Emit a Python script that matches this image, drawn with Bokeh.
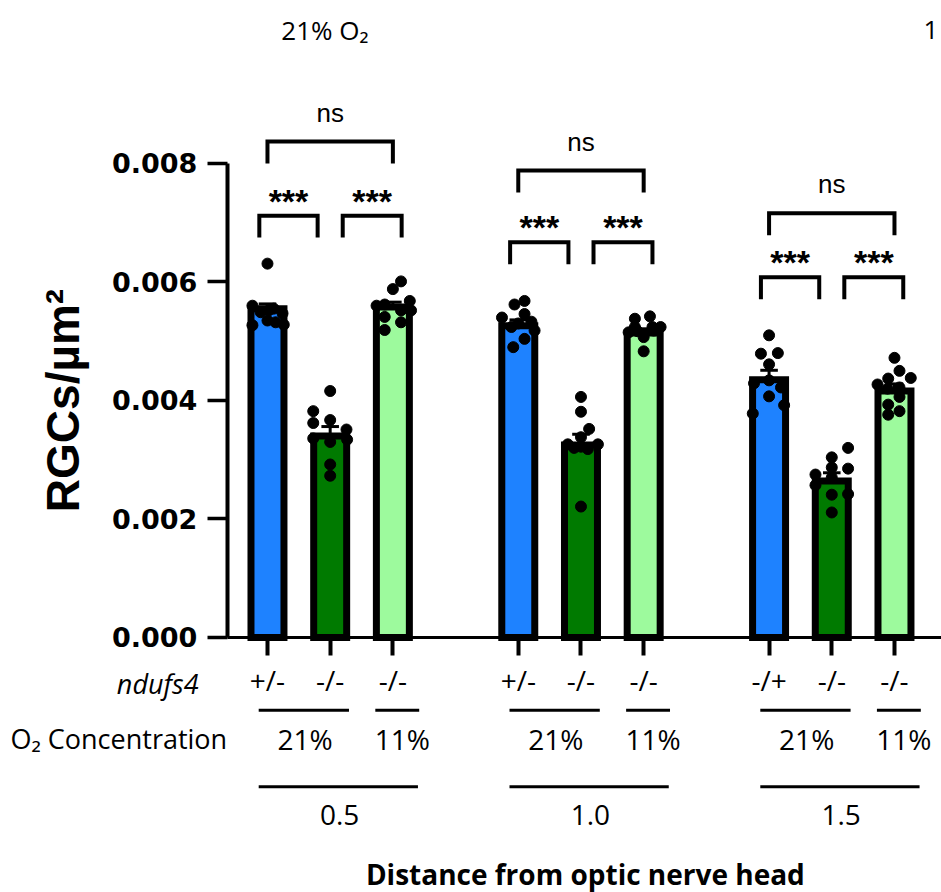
from bokeh.plotting import figure
from bokeh.models import Range1d, FixedTicker, PrintfTickFormatter
from bokeh.core.properties import value
from bokeh.embed import file_html
from bokeh.resources import INLINE

# ---------------- data ----------------
distances = ["0.5", "1.0", "1.5"]
genotypes = ["+/-", "-/-", "-/-", "+/-", "-/-", "-/-", "-/+", "-/-", "-/-"]
o2_levels = ["21%", "11%"]
bar_x = [0, 1, 2, 4, 5, 6, 8, 9, 10]
means = [0.00555, 0.00340, 0.00558, 0.00526, 0.00325, 0.00514, 0.00435, 0.00264, 0.00416]
sems = [0.00008, 0.00016, 0.00008, 0.00010, 0.00018, 0.00007, 0.00016, 0.00014, 0.00012]
y_ticks = [0.0, 0.002, 0.004, 0.006, 0.008]

# individual animals (x 1e-3 RGCs/um^2)
d05_het21 = [6.31, 5.60, 5.49, 5.52, 5.55, 5.47, 5.35, 5.32, 5.27, 5.28]
d05_ko21 = [4.16, 3.82, 3.67, 3.62, 3.51, 3.34, 3.36, 3.30, 2.92, 2.73]
d05_ko11 = [6.01, 5.88, 5.68, 5.60, 5.62, 5.52, 5.41, 5.32, 5.19, 5.52]
d10_het21 = [5.68, 5.62, 5.46, 5.40, 5.24, 5.18, 5.04, 4.90, 5.30, 5.33]
d10_ko21 = [4.06, 3.81, 3.52, 3.38, 3.26, 3.22, 3.26, 3.18, 2.21, 3.20]
d10_ko11 = [5.38, 5.42, 5.24, 5.24, 5.24, 5.15, 5.07, 4.83, 5.18, 5.17]
d15_het21 = [5.10, 4.79, 4.80, 4.61, 4.29, 4.34, 4.22, 4.07, 3.92, 3.78]
d15_ko21 = [3.20, 3.04, 2.85, 2.87, 2.75, 2.57, 2.41, 2.42, 2.11, 2.70]
d15_ko11 = [4.72, 4.50, 4.37, 4.38, 4.27, 4.22, 4.06, 3.93, 3.76, 3.82, 4.20]

# horizontal scatter of the points
j05_het21 = [0, -0.24, -0.11, 0.02, 0.10, 0.24, 0, 0.13, -0.24, 0.26]
j05_ko21 = [0, -0.27, 0, -0.27, 0.26, 0.27, -0.27, 0, 0, 0]
j05_ko11 = [0.13, 0, 0.27, -0.26, -0.13, 0.13, -0.13, 0.13, -0.13, 0.29]
j10_het21 = [0.10, -0.06, 0.10, -0.26, -0.11, 0.26, 0.10, -0.08, 0, 0.21]
j10_ko21 = [0, 0, 0.13, 0, -0.21, 0, 0.27, 0.11, 0, -0.11]
j10_ko11 = [-0.14, 0.10, -0.14, 0.14, 0.27, -0.24, 0, 0, 0.16, -0.10]
j15_het21 = [0, -0.13, 0.14, 0, -0.24, 0, 0.19, 0, 0.24, -0.26]
j15_ko21 = [0.26, 0, 0.26, 0, -0.26, -0.26, 0, 0.26, 0, 0]
j15_ko11 = [0, 0.08, -0.10, 0.26, -0.27, 0.08, 0.08, -0.10, -0.10, 0.08, -0.11]

# significance brackets: top of outer (ns) and inner (***) brackets per distance (x 1e-3)
ns_top = [8.37, 7.88, 7.16]
star_top = [7.12, 6.67, 6.08]

colors = ["#1E82FF", "#007A00", "#9DFA9D"] * 3

# ---------------- figure ----------------
X_END = 10.750
p = figure(width=941, height=892,
           x_range=Range1d(-4.258, X_END), y_range=Range1d(-0.004304, 0.010751),
           output_backend="svg", toolbar_location=None, min_border=0,
           outline_line_color=None, background_fill_color="white")
p.xgrid.visible = False
p.ygrid.visible = False

AX_X = -0.64

xa = p.xaxis[0]
xa.fixed_location = 0
xa.bounds = (AX_X, X_END)
xa.ticker = FixedTicker(ticks=bar_x)
xa.major_label_overrides = {x: g for x, g in zip(bar_x, genotypes)}
xa.minor_tick_line_color = None
xa.major_tick_in = 0
xa.major_tick_out = 18
xa.major_tick_line_width = 4
xa.axis_line_width = 3
xa.major_label_text_font = "Open Sans"
xa.major_label_text_font_size = "28px"
xa.major_label_text_color = "black"
xa.major_label_standoff = 6

ya = p.yaxis[0]
ya.fixed_location = AX_X
ya.bounds = (0, 0.008)
ya.ticker = FixedTicker(ticks=y_ticks)
ya.formatter = PrintfTickFormatter(format="%.3f")
ya.minor_tick_line_color = None
ya.major_tick_in = 0
ya.major_tick_out = 20
ya.major_tick_line_width = 3.5
ya.axis_line_width = 4
ya.major_label_text_font = "DejaVu Sans"
ya.major_label_text_font_style = "bold"
ya.major_label_text_font_size = "27px"
ya.major_label_text_color = "black"
ya.major_label_standoff = 10
ya.axis_label = "RGCs/µm²"
ya.axis_label_text_font = "Liberation Sans"
ya.axis_label_text_font_style = "bold"
ya.axis_label_text_font_size = "46px"
ya.axis_label_text_color = "black"
ya.axis_label_standoff = 20

# bars
p.vbar(x=bar_x, top=means, bottom=0, width=0.526, fill_color=colors,
       line_color="black", line_width=7, line_join="miter")

# SEM bars (upward)
err_top = [m + s for m, s in zip(means, sems)]
p.segment(x0=bar_x, y0=means, x1=bar_x, y1=err_top, line_color="black", line_width=3)
p.segment(x0=[x - 0.14 for x in bar_x], y0=err_top, x1=[x + 0.14 for x in bar_x], y1=err_top,
          line_color="black", line_width=3)

# individual points
pts = [d05_het21, d05_ko21, d05_ko11, d10_het21, d10_ko21, d10_ko11, d15_het21, d15_ko21, d15_ko11]
jit = [j05_het21, j05_ko21, j05_ko11, j10_het21, j10_ko21, j10_ko11, j15_het21, j15_ko21, j15_ko11]
px, py = [], []
for bx, vals, offs in zip(bar_x, pts, jit):
    for v, o in zip(vals, offs):
        px.append(bx + o)
        py.append(v * 1e-3)
p.scatter(px, py, size=11, color="black")

# significance brackets
LEG = 0.37
bxs, bys = [], []
ns_x, ns_y, st_x, st_y = [], [], [], []
for g in range(3):
    g0 = 4 * g
    t = ns_top[g]
    bxs.append([g0, g0, g0 + 2, g0 + 2])
    bys.append([(t - LEG) * 1e-3, t * 1e-3, t * 1e-3, (t - LEG) * 1e-3])
    ns_x.append(g0 + 1)
    ns_y.append((t + 0.49) * 1e-3)
    s = star_top[g]
    for a, b in [(-0.13, 0.80), (1.20, 2.14)]:
        bxs.append([g0 + a, g0 + a, g0 + b, g0 + b])
        bys.append([(s - LEG) * 1e-3, s * 1e-3, s * 1e-3, (s - LEG) * 1e-3])
        st_x.append(g0 + (a + b) / 2)
        st_y.append((s + 0.25) * 1e-3)
p.multi_line(xs=bxs, ys=bys, line_color="black", line_width=4, line_join="miter")
p.text(x=ns_x, y=ns_y, text=["ns"] * 3, text_align="center", text_baseline="middle",
       text_font=value("Liberation Sans"), text_font_size=value("26px"), text_color="black")
p.text(x=st_x, y=st_y, text=["***"] * 6, text_align="center", text_baseline="alphabetic",
       text_font=value("Liberation Sans"), text_font_style="bold",
       text_font_size=value("34px"), text_color="black")

# grouping annotations below the axis
Y_GENO = -0.00078
Y_LINE1 = -0.00123
Y_O2 = -0.00171
Y_LINE2 = -0.00252
Y_DIST = -0.00300
Y_XTITLE = -0.00400

lx0, lx1, ly = [], [], []
o2_x, o2_t, d_x = [], [], []
for g in range(3):
    g0 = 4 * g
    lx0 += [g0 - 0.14, g0 + 1.72, g0 - 0.14]
    lx1 += [g0 + 1.30, g0 + 2.42, g0 + 2.40]
    ly += [Y_LINE1, Y_LINE1, Y_LINE2]
    o2_x += [g0 + 0.60, g0 + 2.15]
    o2_t += o2_levels
    d_x.append(g0 + 1.15)
p.segment(x0=lx0, y0=ly, x1=lx1, y1=ly, line_color="black", line_width=3)

font = value("Open Sans")
p.text(x=o2_x, y=[Y_O2] * 6, text=o2_t, text_align="center", text_baseline="middle",
       text_font=font, text_font_size=value("28px"), text_color="black")
p.text(x=d_x, y=[Y_DIST] * 3, text=distances, text_align="center", text_baseline="middle",
       text_font=font, text_font_size=value("28px"), text_color="black")
p.text(x=[-1.10], y=[Y_GENO], text=["ndufs4"], text_align="right", text_baseline="middle",
       text_font=font, text_font_style="italic", text_font_size=value("27px"), text_color="black")
p.text(x=[-4.10], y=[Y_O2], text=["O₂ Concentration"], text_align="left", text_baseline="middle",
       text_font=font, text_font_size=value("27px"), text_color="black")
p.text(x=[5.07], y=[Y_XTITLE], text=["Distance from optic nerve head"], text_align="center",
       text_baseline="middle", text_font=font, text_font_style="bold",
       text_font_size=value("28px"), text_color="black")

# panel headers (cropped figure: only the first character of the right-hand header is visible)
p.text(x=[0.22], y=[0.010245], text=["21% O₂"], text_align="left",
       text_baseline="middle", text_font=font, text_font_size=value("26px"), text_color="black")
p.text(x=[10.58], y=[0.010245], text=["1"], text_align="center",
       text_baseline="middle", text_font=font, text_font_size=value("26px"), text_color="black")

open("out.html", "w").write(file_html(p, INLINE))
